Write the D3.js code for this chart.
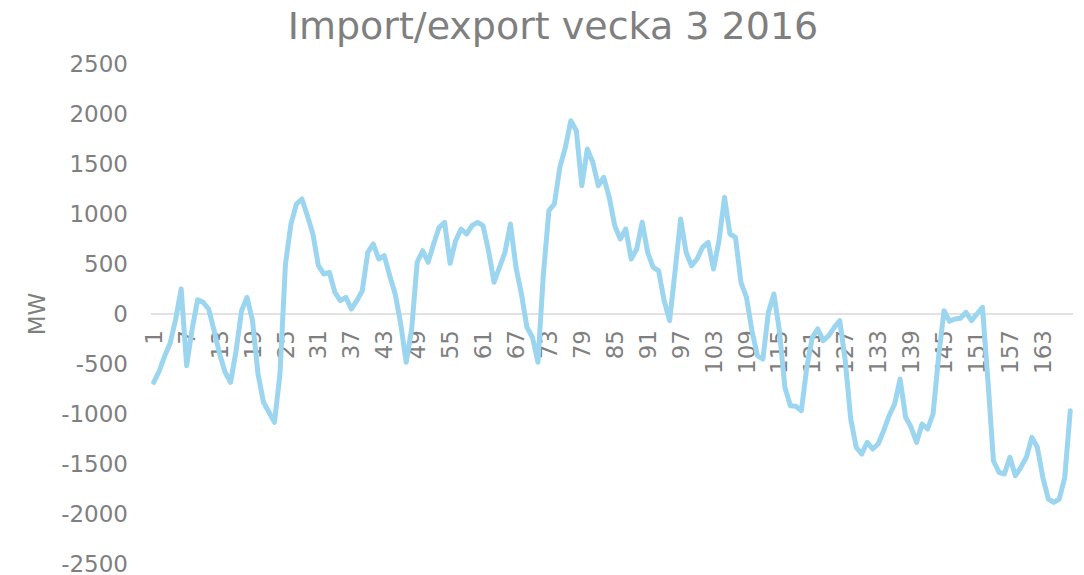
<!DOCTYPE html>
<html>
<head>
<meta charset="utf-8">
<title>Import/export vecka 3 2016</title>
<script src="https://cdn.jsdelivr.net/npm/d3@7/dist/d3.min.js"></script>
<style>
  body { margin: 0; background: #fff; }
  svg text { font-family: Verdana, "DejaVu Sans", sans-serif; fill: #7f7f7f; }
</style>
</head>
<body>
<div id="vis"></div>
<script>
// DATA
const chartTitle = "Import/export vecka 3 2016";
const yTitle = "MW";

// hours of week 3 (1..168)
const hours = d3.range(1, 169);

// MW
const mw = [
  -683, -570, -420, -290, -50, 250, -517, -150, 143, 117,
  50, -167, -400, -583, -683, -370, 33, 167, -67, -600,
  -883, -983, -1083, -600, 500, 900, 1100, 1150, 983, 800,
  483, 400, 417, 217, 133, 167, 50, 133, 233, 617,
  700, 550, 583, 383, 200, -100, -483, -150, 517, 633,
  517, 700, 867, 917, 507, 733, 850, 800, 883, 917,
  883, 633, 317, 467, 617, 900, 467, 200, -133, -233,
  -483, 400, 1033, 1100, 1467, 1667, 1933, 1833, 1283, 1650,
  1517, 1283, 1367, 1167, 883, 750, 850, 550, 650, 917,
  617, 467, 433, 133, -67, 433, 950, 617, 483, 550,
  667, 717, 450, 733, 1167, 800, 767, 317, 167, -167,
  -417, -450, 17, 200, -167, -733, -917, -923, -967, -533,
  -233, -150, -267, -217, -133, -67, -467, -1050, -1333, -1400,
  -1283, -1350, -1300, -1167, -1017, -900, -650, -1033, -1133, -1283,
  -1100, -1150, -1000, -433, 33, -73, -50, -43, 17, -67,
  0, 67, -667, -1467, -1583, -1600, -1433, -1617, -1533, -1433,
  -1233, -1333, -1633, -1850, -1883, -1850, -1633, -967
];

const yTicks = [-2500, -2000, -1500, -1000, -500, 0, 500, 1000, 1500, 2000, 2500];
const xTickLabels = [1, 7, 13, 19, 25, 31, 37, 43, 49, 55, 61, 67, 73, 79, 85, 91, 97,
  103, 109, 115, 121, 127, 133, 139, 145, 151, 157, 163];

// LAYOUT
const width = 1084, height = 575;
const plot = { left: 151, right: 1073, top: 64, bottom: 564 };
const lineColor = "#9bd5ef";

const svg = d3.select("#vis").append("svg")
  .attr("width", width)
  .attr("height", height);

svg.append("rect").attr("width", width).attr("height", height).attr("fill", "#fff");

// SCALES
const x = d3.scaleBand()
  .domain(hours)
  .range([plot.left, plot.right]);

const y = d3.scaleLinear()
  .domain([-2500, 2500])
  .range([plot.bottom, plot.top]);

const cx = d => x(d) + x.bandwidth() / 2;

// DRAW
// title
svg.append("text")
  .attr("x", 553)
  .attr("y", 39)
  .attr("text-anchor", "middle")
  .style("font-size", "38px")
  .text(chartTitle);

// y axis labels (plain hyphen minus, no thousands separator)
const yAxis = d3.axisLeft(y)
  .tickValues(yTicks)
  .tickFormat(d => String(d))
  .tickSize(0)
  .tickPadding(0);
const yG = svg.append("g")
  .attr("transform", "translate(128,0)")
  .call(yAxis);
yG.select(".domain").remove();
yG.selectAll("text")
  .style("font-size", "23px")
  .attr("fill", "#7f7f7f")
  .attr("font-family", null);

// y axis title
svg.append("text")
  .attr("transform", "translate(37," + y(0) + ") rotate(-90)")
  .attr("text-anchor", "middle")
  .attr("dy", "0.35em")
  .style("font-size", "23px")
  .text(yTitle);

// horizontal axis at zero
svg.append("line")
  .attr("x1", plot.left)
  .attr("x2", plot.right)
  .attr("y1", y(0))
  .attr("y2", y(0))
  .attr("stroke", "#d9d9d9")
  .attr("stroke-width", 1.5);

// category labels, rotated
const xAxis = d3.axisBottom(x)
  .tickValues(xTickLabels)
  .tickSize(0)
  .tickPadding(0);
const xG = svg.append("g")
  .attr("transform", "translate(0," + y(0) + ")")
  .call(xAxis);
xG.select(".domain").remove();
xG.selectAll("text")
  .attr("transform", "translate(0,16) rotate(-90)")
  .attr("y", 0)
  .attr("x", 0)
  .attr("dy", "0.35em")
  .attr("text-anchor", "end")
  .attr("fill", "#7f7f7f")
  .attr("font-family", null)
  .style("font-size", "23px");

// the line
const line = d3.line()
  .x((d, i) => cx(hours[i]))
  .y(d => y(d));

svg.append("path")
  .datum(mw)
  .attr("d", line)
  .attr("fill", "none")
  .attr("stroke", lineColor)
  .attr("stroke-width", 5)
  .attr("stroke-linejoin", "round")
  .attr("stroke-linecap", "round");
</script>
</body>
</html>
